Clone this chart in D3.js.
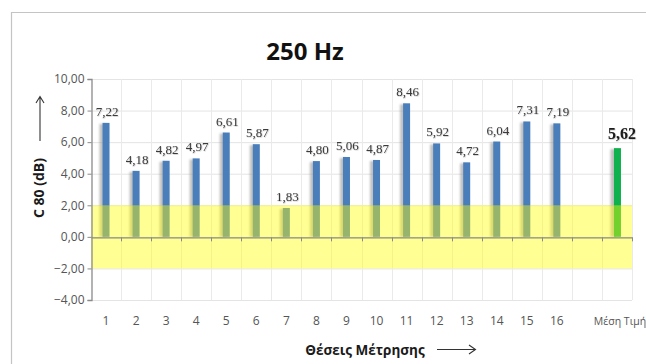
<!DOCTYPE html>
<html>
<head>
<meta charset="utf-8">
<script src="https://cdnjs.cloudflare.com/ajax/libs/d3/7.8.5/d3.min.js"></script>
<style>
  html, body { margin: 0; padding: 0; background: #fff; }
  svg { display: block; }
</style>
</head>
<body>
<svg id="chart" width="646" height="364"></svg>
<script>
// Measurement positions and C80 values (dB) at 250 Hz
const categories = ["1","2","3","4","5","6","7","8","9","10","11","12","13","14","15","16","","Μέση Τιμή"];
const positions = ["1","2","3","4","5","6","7","8","9","10","11","12","13","14","15","16"];
const values = [7.22, 4.18, 4.82, 4.97, 6.61, 5.87, 1.83, 4.80, 5.06, 4.87, 8.46, 5.92, 4.72, 6.04, 7.31, 7.19];
const meanLabel = "Μέση Τιμή";
const meanValue = 5.62;
const yTicks = [-4, -2, 0, 2, 4, 6, 8, 10];
const band = [-2, 2]; // highlighted range

const svg = d3.select("#chart");
const fmt = v => d3.format(".2f")(v).replace(".", ",");

const plot = { left: 91, right: 632, top: 79, bottom: 300 };

const x = d3.scaleBand().domain(categories).range([plot.left, plot.right]).paddingInner(0).paddingOuter(0);
const y = d3.scaleLinear().domain([-4, 10]).range([plot.bottom, plot.top]);

// chart frame
svg.append("path")
  .attr("d", `M11.5,364 V12.5 H646`)
  .attr("fill", "none").attr("stroke", "#c4c4c4").attr("stroke-width", 1.2);

const defs = svg.append("defs");
defs.append("filter").attr("id", "shadow").attr("x", "-100%").attr("width", "300%")
  .append("feGaussianBlur").attr("stdDeviation", 1.1);
defs.append("filter").attr("id", "txtshadow")
  .append("feDropShadow").attr("dx", 0.6).attr("dy", 0.6).attr("stdDeviation", 0.5)
  .attr("flood-color", "#000").attr("flood-opacity", 0.25);

// gridlines
const grid = svg.append("g");
grid.selectAll("line.h").data(yTicks).join("line")
  .attr("x1", plot.left).attr("x2", plot.right)
  .attr("y1", d => y(d) + 0.5).attr("y2", d => y(d) + 0.5)
  .attr("stroke", "#e4e4e4").attr("stroke-width", 1);
grid.selectAll("line.v").data(categories).join("line")
  .attr("x1", (d, i) => Math.round(plot.left + (i + 1) * x.bandwidth()) + 0.5)
  .attr("x2", (d, i) => Math.round(plot.left + (i + 1) * x.bandwidth()) + 0.5)
  .attr("y1", plot.top).attr("y2", plot.bottom)
  .attr("stroke", "#eaeaea").attr("stroke-width", 1);

const barW = 7;
const posData = positions.map((p, i) => ({ cat: p, v: values[i] }));

// bar shadows
svg.append("g").selectAll("rect").data(posData.concat([{ cat: meanLabel, v: meanValue }])).join("rect")
  .attr("x", d => x(d.cat) + x.bandwidth() / 2 - barW / 2 - 3)
  .attr("y", d => y(d.v) + 1)
  .attr("width", barW - 1)
  .attr("height", d => y(0) - y(d.v) - 1)
  .attr("fill", "#8c8c8c").attr("opacity", 0.55)
  .attr("filter", "url(#shadow)");

// bars
svg.append("g").selectAll("rect").data(posData).join("rect")
  .attr("x", d => x(d.cat) + x.bandwidth() / 2 - barW / 2)
  .attr("y", d => y(d.v))
  .attr("width", barW)
  .attr("height", d => y(0) - y(d.v))
  .attr("fill", "#4a7ebb");

svg.append("rect")
  .attr("x", x(meanLabel) + x.bandwidth() / 2 - barW / 2 + 0.5)
  .attr("y", y(meanValue))
  .attr("width", barW)
  .attr("height", y(0) - y(meanValue))
  .attr("fill", "#0fb04e");

// tolerance band
svg.append("rect")
  .attr("x", plot.left).attr("width", plot.right - plot.left)
  .attr("y", y(band[1])).attr("height", y(band[0]) - y(band[1]))
  .attr("fill", "#ffff00").attr("opacity", 0.42);

// value labels
svg.append("g").selectAll("text").data(posData).join("text")
  .attr("x", d => x(d.cat) + x.bandwidth() / 2 + 1)
  .attr("y", d => y(d.v) - 7)
  .attr("text-anchor", "middle")
  .attr("font-family", "'Liberation Serif', serif")
  .attr("font-size", 13)
  .attr("fill", "#3a3a3a")
  .attr("filter", "url(#txtshadow)")
  .text(d => fmt(d.v));

svg.append("text")
  .attr("x", x(meanLabel) + x.bandwidth() / 2 + 5)
  .attr("y", y(meanValue) - 9)
  .attr("text-anchor", "middle")
  .attr("font-family", "'Liberation Serif', serif")
  .attr("font-weight", "bold")
  .attr("font-size", 16)
  .attr("fill", "#1a1a1a")
  .attr("filter", "url(#txtshadow)")
  .text(fmt(meanValue));

// y axis
const yAxis = svg.append("g")
  .attr("transform", `translate(${plot.left + 0.5},0)`)
  .call(d3.axisLeft(y).tickValues(yTicks).tickSize(4).tickPadding(3).tickFormat(fmt));
yAxis.select(".domain").attr("stroke", "#8a8a8a").attr("stroke-width", 1.3);
yAxis.selectAll(".tick line").attr("stroke", "#8a8a8a");
yAxis.selectAll(".tick text")
  .attr("font-family", "'Open Sans', sans-serif")
  .attr("font-size", 12).attr("fill", "#555");

// x axis on the zero line
const xAxis = svg.append("g")
  .attr("transform", `translate(0,${y(0) + 0.5})`)
  .call(d3.axisBottom(x).tickSize(0).tickFormat(""));
xAxis.select(".domain").attr("stroke", "#8a8a8a").attr("stroke-width", 1.3);
xAxis.selectAll(".tick").remove();
xAxis.selectAll("line.edge").data(categories).join("line")
  .attr("x1", (d, i) => Math.round(plot.left + (i + 1) * x.bandwidth()) + 0.5)
  .attr("x2", (d, i) => Math.round(plot.left + (i + 1) * x.bandwidth()) + 0.5)
  .attr("y1", 0).attr("y2", 4)
  .attr("stroke", "#8a8a8a");

// category labels below the plot
svg.append("g").selectAll("text").data(categories).join("text")
  .attr("x", d => x(d) + x.bandwidth() / 2 + (d === meanLabel ? 3 : 0))
  .attr("y", 325)
  .attr("text-anchor", "middle")
  .attr("font-family", "'Open Sans', sans-serif")
  .attr("font-size", d => d === meanLabel ? 10.5 : 12)
  .attr("fill", "#555")
  .text(d => d);

// title
svg.append("text")
  .attr("x", 305).attr("y", 60)
  .attr("text-anchor", "middle")
  .attr("font-family", "'Open Sans', sans-serif")
  .attr("font-weight", "bold")
  .attr("font-size", 24)
  .attr("fill", "#111")
  .text("250 Hz");

// y axis title with arrow
svg.append("text")
  .attr("transform", "translate(44,188) rotate(-90)")
  .attr("text-anchor", "middle")
  .attr("font-family", "'Open Sans', sans-serif")
  .attr("font-weight", "bold")
  .attr("font-size", 14)
  .attr("fill", "#1a1a1a")
  .text("C 80 (dB)");
svg.append("path")
  .attr("d", "M40,141 V97 M36,103 L40,96.5 L44,103")
  .attr("fill", "none").attr("stroke", "#333").attr("stroke-width", 1.1);

// x axis title with arrow
svg.append("text")
  .attr("x", 365).attr("y", 355)
  .attr("text-anchor", "middle")
  .attr("font-family", "'Open Sans', sans-serif")
  .attr("font-weight", "bold")
  .attr("font-size", 13.5)
  .attr("fill", "#1a1a1a")
  .text("Θέσεις Μέτρησης");
svg.append("path")
  .attr("d", "M437,349.5 H475 M469,345 L475.5,349.5 L469,354")
  .attr("fill", "none").attr("stroke", "#333").attr("stroke-width", 1.1);
</script>
</body>
</html>
